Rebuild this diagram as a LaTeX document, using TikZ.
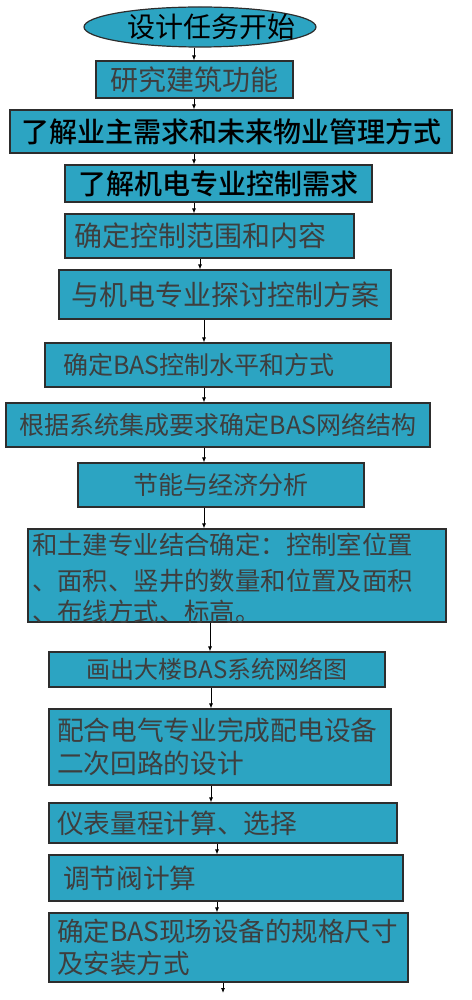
\documentclass[tikz,border=0pt]{standalone}
\usepackage{fontspec}
\setmainfont{Noto Sans CJK SC}
\newfontfamily\cjkmedium{Noto Sans CJK SC}[UprightFont={* Medium}]
\usetikzlibrary{arrows.meta, positioning, shapes.geometric}
\definecolor{stepfill}{RGB}{44,164,194}
\definecolor{steptext}{RGB}{62,62,62}
\definecolor{stepline}{RGB}{45,45,45}

\begin{document}
\begin{tikzpicture}[
    x=1pt, y=-1pt,
    % 流程框样式
    stepbox/.style={
        rectangle, draw=stepline, line width=1.2pt, fill=stepfill,
        text=steptext, inner sep=0pt, align=center
    },
    % 左对齐文字
    leftbox/.style={stepbox, align=left},
    % 起始椭圆
    startnode/.style={
        ellipse, draw=stepline, line width=1.2pt, fill=stepfill,
        inner ysep=0pt, inner xsep=-30pt, text=black
    },
    % 箭头样式
    arrow/.style={-{Latex[length=5pt,width=4pt]}, line width=0.8pt, black},
]
\useasboundingbox (0,0) rectangle (471,1000);

% ==================== 流程节点 ====================
\node[startnode, minimum width=232pt, minimum height=40pt, font=\fontsize{28}{30}\selectfont] (e) at (200,27) {\hspace*{22pt}设计任务开始};

\node[stepbox, minimum width=197pt, minimum height=37pt, font=\fontsize{28}{30}\selectfont] (s1) at (194.5,79.5) {研究建筑功能};
\node[stepbox, text=black, minimum width=442pt, minimum height=43pt, font=\fontsize{28}{30}\cjkmedium] (s2) at (231,131.5) {了解业主需求和未来物业管理方式};
\node[stepbox, text=black, minimum width=307pt, minimum height=37pt, font=\fontsize{28}{30}\cjkmedium] (s3) at (218.5,183.5) {了解机电专业控制需求};
\node[leftbox, inner xsep=9pt, text width=271pt, minimum height=44pt, font=\fontsize{28}{30}\selectfont] (s4) at (209.5,236) {确定控制范围和内容};
\node[stepbox, minimum width=332pt, minimum height=49pt, font=\fontsize{28}{30}\selectfont] (s5) at (225,294.5) {与机电专业探讨控制方案};

\node[leftbox, inner xsep=18pt, text width=310pt, minimum height=44pt, font=\fontsize{25}{28}\selectfont] (s6) at (218,365) {确定BAS控制水平和方式};
\node[stepbox, minimum width=424pt, minimum height=44pt, font=\fontsize{25}{28}\selectfont] (s7) at (218,425) {根据系统集成要求确定BAS网络结构};
\node[stepbox, minimum width=286pt, minimum height=44pt, font=\fontsize{25}{28}\selectfont] (s8) at (221,485) {节能与经济分析};
\node[leftbox, inner xsep=4pt, text width=410pt, minimum height=93pt, font=\fontsize{25.4}{31}\selectfont] (s9) at (237,575.5) {\vspace*{5pt}和土建专业结合确定：控制室位置\\、面积、竖井的数量和位置及面积\\、布线方式、标高。\vspace*{-5pt}};

\node[stepbox, minimum width=336pt, minimum height=35pt, font=\fontsize{24}{27}\selectfont] (s10) at (217,669.5) {画出大楼BAS系统网络图};
\node[leftbox, inner xsep=8pt, text width=326pt, minimum height=76pt, font=\fontsize{26.7}{33}\selectfont] (s11) at (220,747) {配合电气专业完成配电设备\\二次回路的设计};
\node[leftbox, inner xsep=8pt, text width=332pt, minimum height=40pt, font=\fontsize{26.7}{30}\selectfont] (s12) at (223,823) {仪表量程计算、选择};
\node[leftbox, inner xsep=14pt, text width=326pt, minimum height=46pt, font=\fontsize{26.7}{30}\selectfont] (s13) at (226,878) {调节阀计算};
\node[leftbox, inner xsep=8pt, text width=343pt, minimum height=69pt, font=\fontsize{26.5}{32}\selectfont] (s14) at (228.5,947.5) {确定BAS现场设备的规格尺寸\\及安装方式};

\coordinate (endpt) at (223,993);

% ==================== 流程箭头 ====================
\foreach \a/\b/\x in {e/s1/194, s1/s2/194, s2/s3/194, s3/s4/194, s4/s5/200,
    s5/s6/204, s6/s7/204, s7/s8/204, s8/s9/204, s9/s10/210,
    s10/s11/211, s11/s12/211, s12/s13/217, s13/s14/217}
    \draw[arrow] (\a.south -| \x,0) -- (\b.north -| \x,0);
\draw[arrow] (s14.south -| endpt) -- (endpt);

\end{tikzpicture}
\end{document}
